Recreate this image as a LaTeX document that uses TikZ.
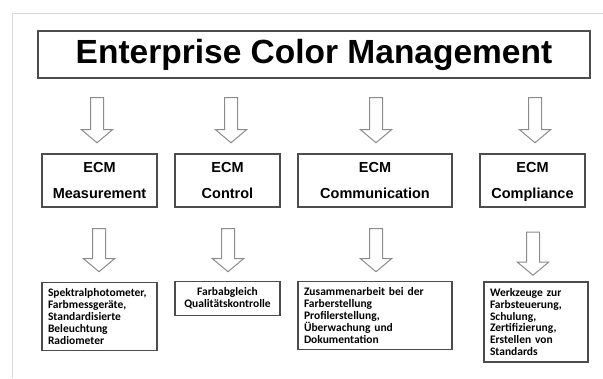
\documentclass[tikz,border=0pt]{standalone}
\usepackage{fontspec}
\setmainfont{Liberation Sans}
\newfontfamily\toolfont{Carlito}
\usetikzlibrary{shapes.arrows}
\usepackage{xcolor}
\definecolor{boxgray}{gray}{0.3}
\definecolor{arrowgray}{gray}{0.55}
\definecolor{framegray}{gray}{0.85}
\tikzset{
    titlebox/.style={
        draw=boxgray,
        line width=1.2pt,
        inner sep=0pt,
        font=\fontsize{33.5}{36}\selectfont\bfseries
    },
    ecmbox/.style={
        draw=boxgray,
        line width=1.2pt,
        minimum height=53pt,
        inner sep=0pt,
        align=center,
        font=\fontsize{14.5}{26}\selectfont\bfseries
    },
    toolbox/.style={
        draw=boxgray,
        line width=1.1pt,
        inner sep=6pt,
        font=\toolfont\fontsize{11.5}{11.8}\selectfont\bfseries
    },
    downarrow/.style={
        single arrow,
        draw=arrowgray,
        line width=1pt,
        fill=white,
        rotate=-90,
        inner xsep=0pt,
        inner ysep=6pt,
        single arrow head extend=9pt,
        single arrow tip angle=100
    }
}
\newcommand{\ecm}[4] {
    \node[ecmbox,minimum width={#3}] (#1) at ({#2}, 180.5) {\strut ECM\\\strut{#4}};
}
\newcommand{\tools}[7] {
    \node[toolbox,minimum width={#4},minimum height={#5},text width={#4-12pt},align={#6}]
        (#1) at ({#2}, {#3}) {#7};
}
\newcommand{\down}[4] {
    \node[downarrow,minimum height={#4}] (#1) at ({#2}, {#3}) {};
}

\begin{document}
\begin{tikzpicture}[x=1pt,y=-1pt]
        \useasboundingbox (0,0) rectangle (603,378);
        \draw[framegray,line width=1pt] (12,378) -- (12,13) -- (603,13);
        \node[titlebox,minimum width=552pt,minimum height=47pt] (ecmtitle) at (314,54.5)
            {Enterprise Color Management};
        % first row of arrows
        \foreach \n/\x in {1/97,2/231,3/376,4/535} {
            \down{top\n}{\x}{117.5}{45pt}
        }
        \ecm{meas}{99.5}{115pt}{Measurement}
        \ecm{ctrl}{227.5}{105pt}{Control}
        \ecm{comm}{375}{154pt}{Communication}
        \ecm{comp}{532.5}{105pt}{Compliance}
        % second row of arrows
        \foreach \n/\x/\y in {1/99/247.5,2/228/247.5,3/376/247.5,4/533/251} {
            \down{low\n}{\x}{\y}{43pt}
        }
        \tools{measlist}{99.5}{316.5}{115pt}{67pt}{left}
            {Spektralphotometer,\\Farbmessgeräte,\\Standardisierte\\Beleuchtung\\Radiometer}
        \tools{ctrllist}{227.5}{298.5}{105pt}{31pt}{center}
            {Farbabgleich\\Qualitätskontrolle}
        \tools{commlist}{375}{315.5}{154pt}{67pt}{left}
            {Zusammenarbeit bei der\\Farberstellung\\Profilerstellung,\\Überwachung und\\Dokumentation}
        \tools{complist}{536}{322}{104pt}{80pt}{left}
            {Werkzeuge zur\\Farbsteuerung,\\Schulung,\\Zertifizierung,\\Erstellen von\\Standards}
    \end{tikzpicture}
\end{document}
